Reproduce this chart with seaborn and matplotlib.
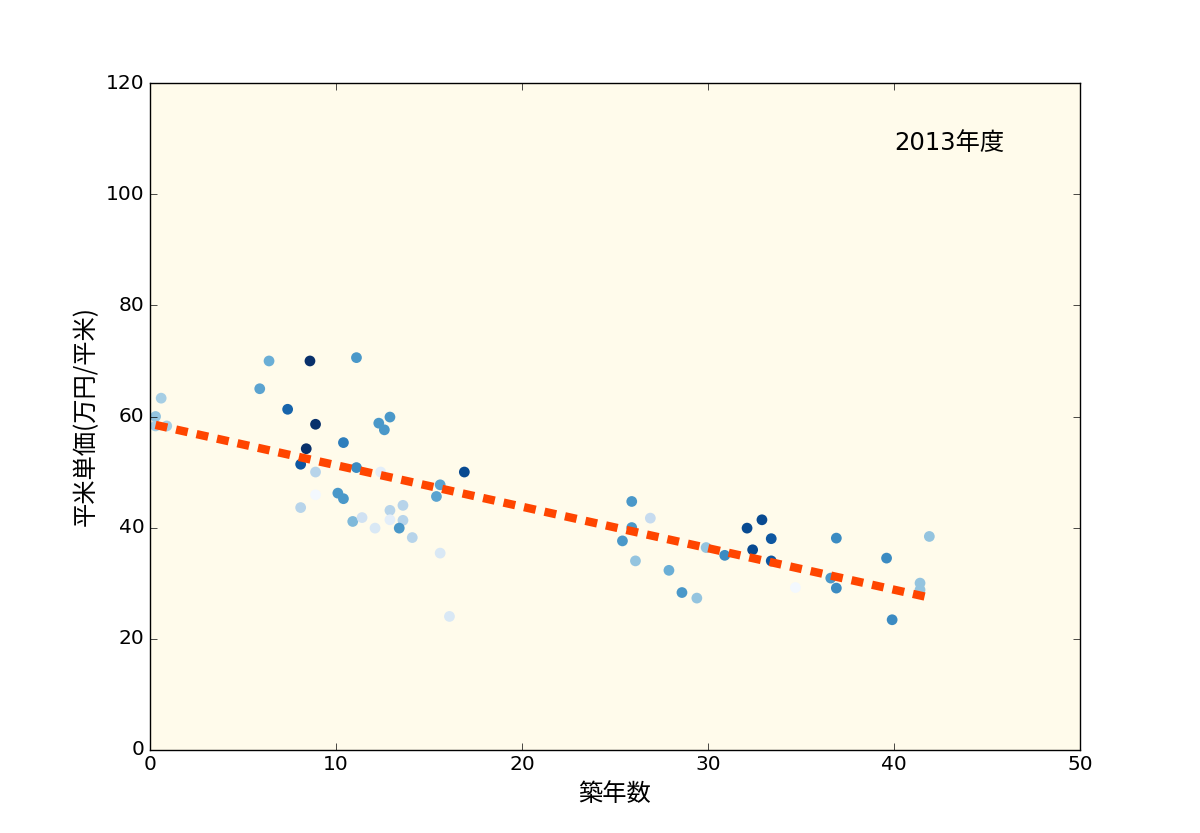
import matplotlib
matplotlib.use("Agg")
import matplotlib.pyplot as plt
import seaborn as sns
import numpy as np
import pandas as pd

# --- data ---
age = [6.4, 8.6, 11.1, 5.9, 0.6, 7.4, 12.9, 0.3, 0.3, 0.9,
       8.9, 12.3, 12.6, 10.4, 8.4, 8.1, 8.9, 11.1, 12.4, 16.9,
       15.6, 15.4, 8.9, 10.1, 10.4, 8.1, 13.6, 12.9, 12.9, 13.6,
       10.9, 11.4, 12.1, 13.4, 14.1, 15.6, 16.1,
       25.9, 26.9, 25.9, 25.4, 26.1, 27.9, 28.6, 29.4, 29.9, 30.9,
       32.1, 32.9, 33.4, 32.4, 33.4, 34.7, 36.9, 36.6, 36.9, 39.6,
       39.9, 41.4, 41.4, 41.9]
price = [70.0, 70.0, 70.6, 65.0, 63.3, 61.3, 59.9, 60.0, 58.3, 58.3,
         58.6, 58.8, 57.6, 55.3, 54.2, 51.4, 50.0, 50.8, 50.0, 50.0,
         47.7, 45.6, 45.9, 46.2, 45.2, 43.6, 44.0, 43.1, 41.4, 41.3,
         41.1, 41.8, 39.9, 39.9, 38.2, 35.4, 24.0,
         44.7, 41.7, 40.0, 37.6, 34.0, 32.3, 28.3, 27.3, 36.4, 35.0,
         39.9, 41.4, 38.0, 36.0, 34.0, 29.2, 38.1, 30.9, 29.1, 34.5,
         23.4, 30.0, 28.8, 38.4]
shade = [0.5, 1.0, 0.6, 0.55, 0.35, 0.8, 0.6, 0.4, 0.35, 0.35,
         1.0, 0.6, 0.6, 0.7, 1.0, 0.85, 0.3, 0.65, 0.1, 0.9,
         0.55, 0.55, 0.02, 0.6, 0.6, 0.3, 0.3, 0.3, 0.1, 0.3,
         0.45, 0.2, 0.15, 0.6, 0.3, 0.15, 0.15,
         0.6, 0.25, 0.6, 0.6, 0.4, 0.5, 0.6, 0.4, 0.4, 0.65,
         0.9, 0.9, 0.85, 0.9, 0.85, 0.02, 0.65, 0.6, 0.65, 0.65,
         0.65, 0.4, 0.4, 0.4]
x_ticks = [0, 10, 20, 30, 40, 50]
y_ticks = [0, 20, 40, 60, 80, 100, 120]
x_label = "築年数"
y_label = "平米単価(万円/平米)"
year_text = "2013年度"

plt.style.use("classic")
plt.rcParams["lines.scale_dashes"] = False
cjk = ["Noto Sans CJK JP", "DejaVu Sans"]
mixed = ["DejaVu Sans", "Noto Sans CJK JP"]

df = pd.DataFrame({"age": age, "price": price, "shade": shade})

fig = plt.figure(figsize=(12, 8.33), dpi=100, facecolor="white")
ax = fig.add_subplot(111)
ax.set_facecolor("#fffbeb")

sns.scatterplot(data=df, x="age", y="price", hue="shade", palette="Blues",
                hue_norm=(0, 1), s=60, linewidth=0, legend=False, ax=ax,
                zorder=2)
sns.regplot(data=df, x="age", y="price", scatter=False, ci=None, ax=ax,
            line_kws=dict(color="#ff4500", lw=6.0, dashes=(8.6, 6.5),
                          zorder=3))

ax.set_xlim(0, 50)
ax.set_ylim(0, 120)
ax.set_xticks(x_ticks)
ax.set_yticks(y_ticks)
ax.tick_params(labelsize=14.5, length=5)
ax.set_xlabel(x_label, fontsize=17.5, family=cjk)
ax.set_ylabel(y_label, fontsize=17.5, family=cjk)
ax.text(40, 108, year_text, fontsize=17.5, family=mixed)

fig.savefig("out.png", dpi=100, facecolor="white")
